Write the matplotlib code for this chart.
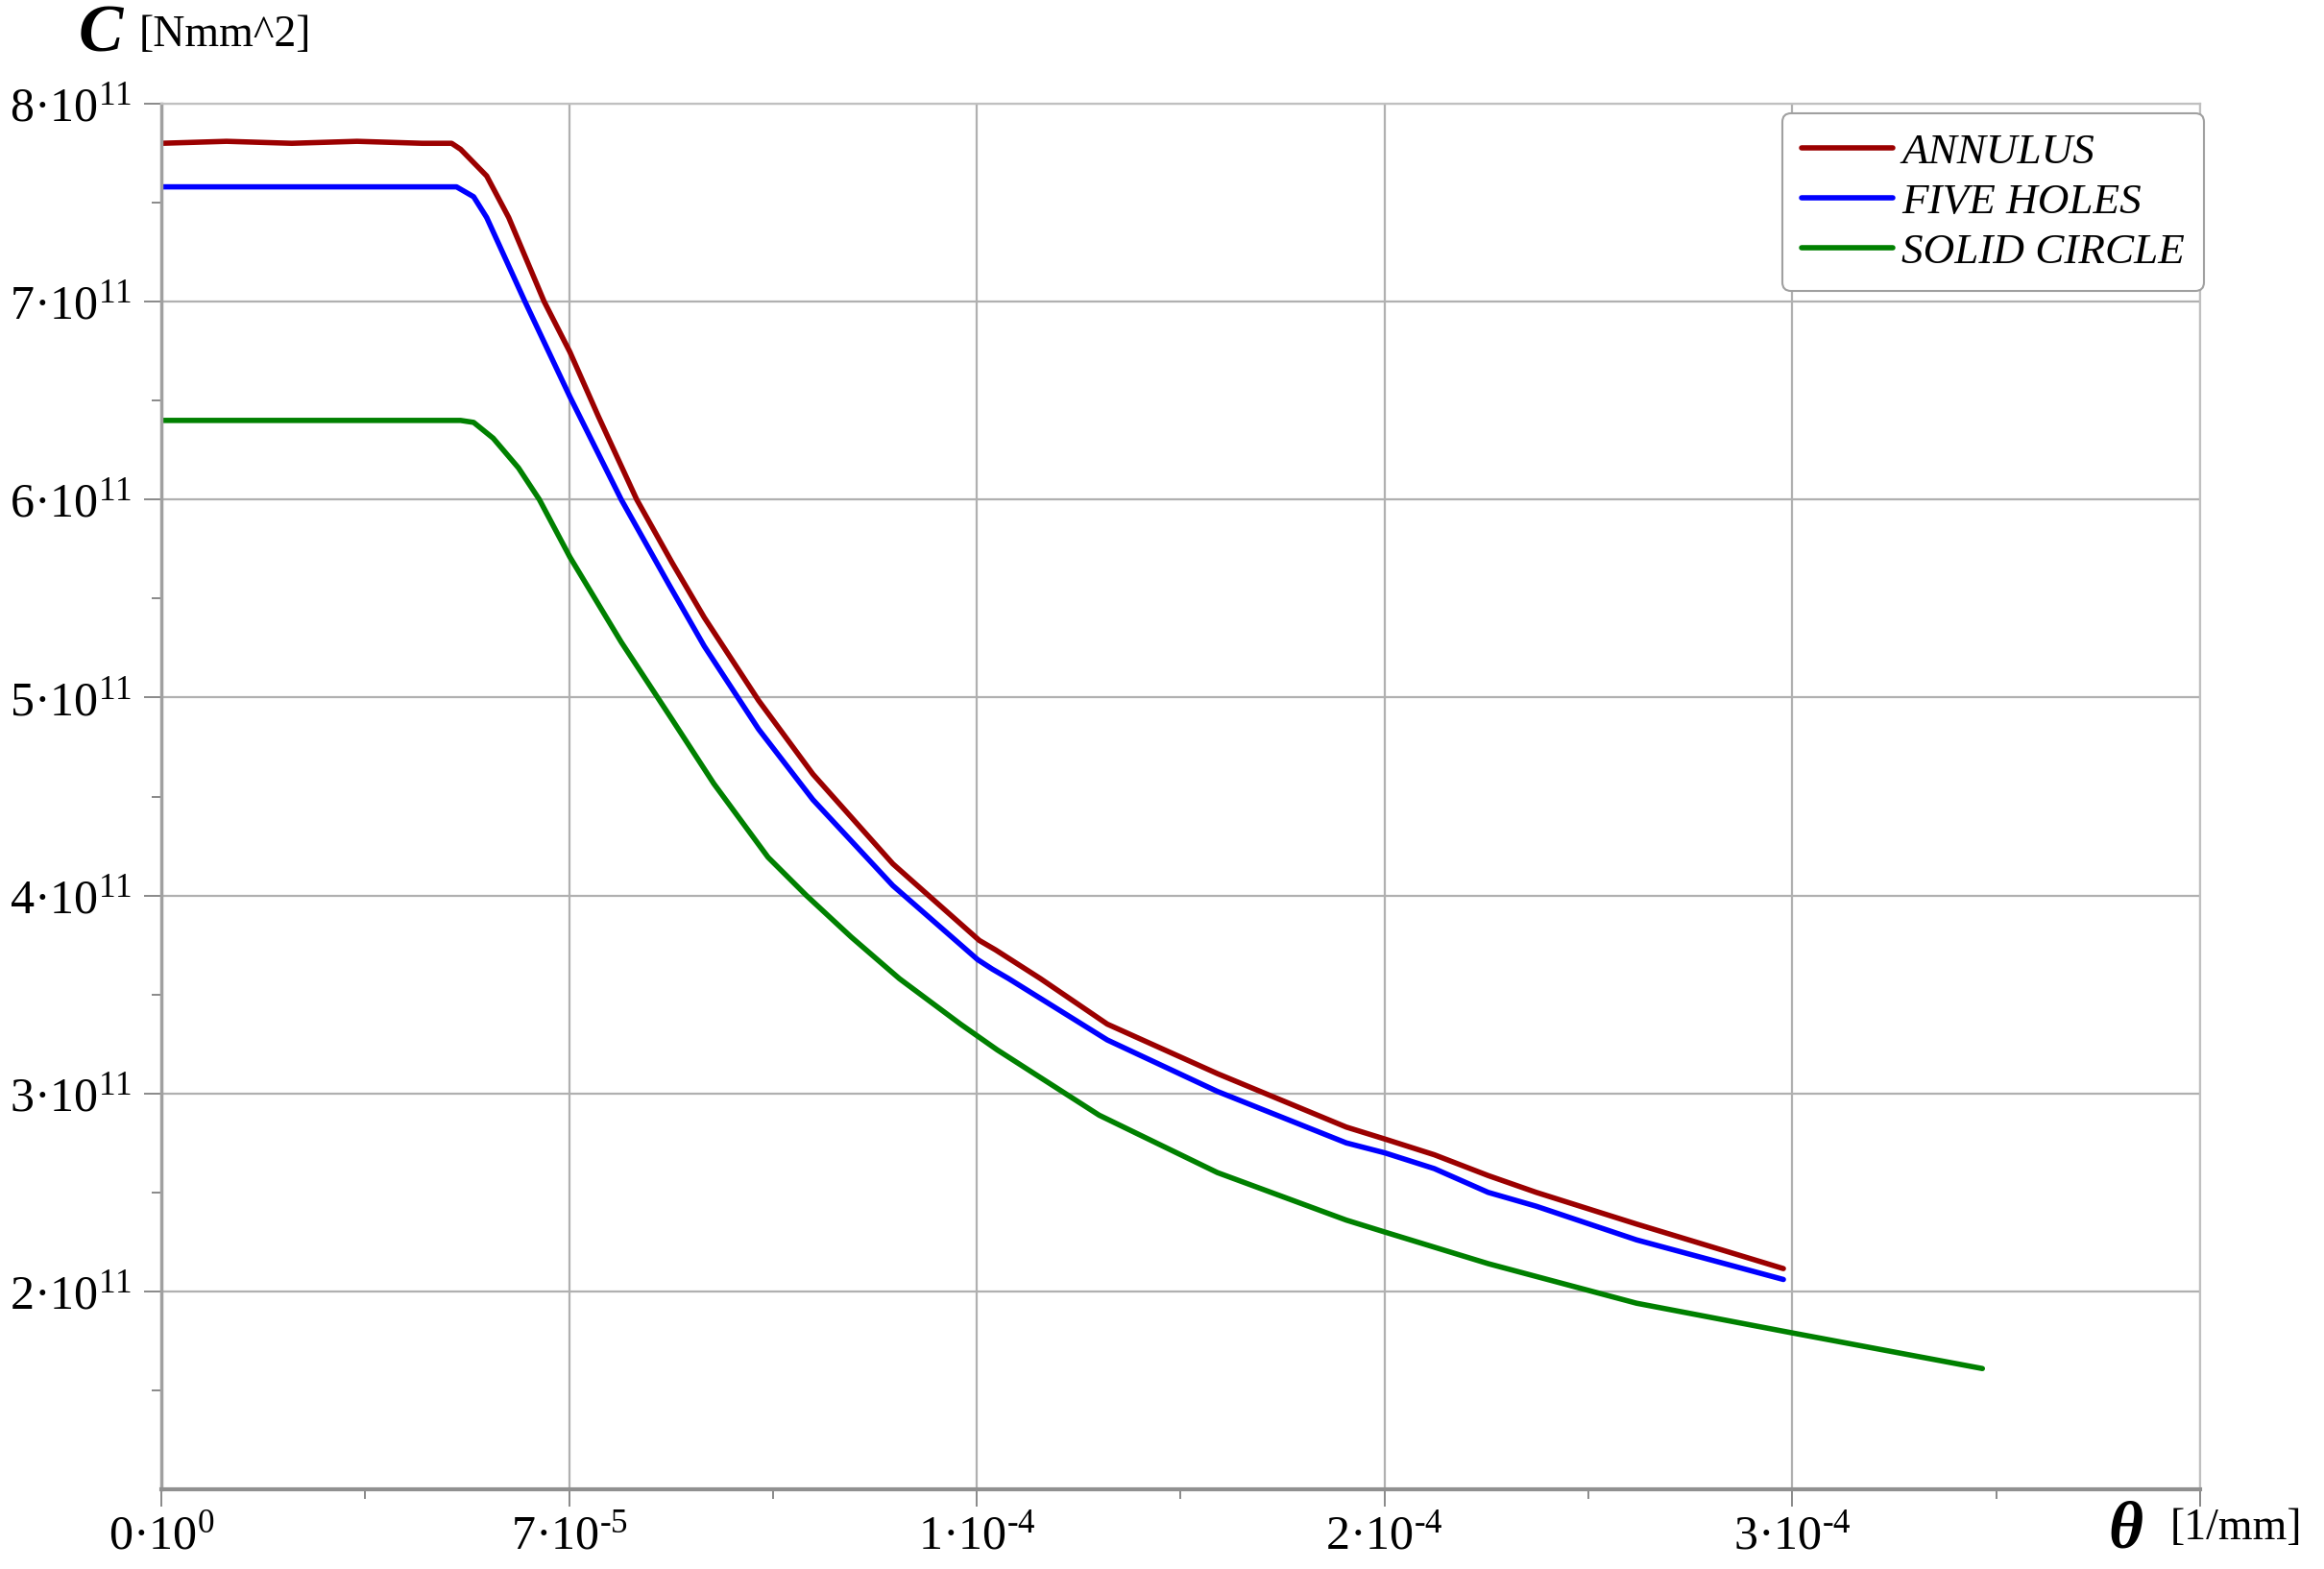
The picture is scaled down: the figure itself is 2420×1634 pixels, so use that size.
"""Rigidez C frente a la curvatura theta para tres secciones (Maple-like)."""
import numpy as np
import matplotlib.pyplot as plt
from matplotlib.ticker import FixedLocator, NullFormatter

plt.rcParams["font.family"] = ["Liberation Serif", "DejaVu Serif"]
plt.rcParams["mathtext.fontset"] = "custom"
plt.rcParams["mathtext.rm"] = "Liberation Serif"
plt.rcParams["mathtext.default"] = "regular"

# theta en unidades de 1e-4 [1/mm], C en unidades de 1e11 [Nmm^2]
annulus_x = [0, 0.08, 0.16, 0.24, 0.32, 0.356, 0.367, 0.399, 0.426, 0.4695,
             0.501, 0.536, 0.583, 0.6265, 0.6657, 0.7324, 0.799, 0.897, 1.003,
             1.023, 1.078, 1.16, 1.295, 1.453, 1.50, 1.561, 1.627, 1.686,
             1.809, 1.989]
annulus_c = [7.80, 7.81, 7.80, 7.81, 7.80, 7.80, 7.77, 7.635, 7.425, 7.0,
             6.746, 6.42, 6.0, 5.68, 5.405, 4.985, 4.613, 4.16, 3.773,
             3.725, 3.58, 3.35, 3.10, 2.83, 2.77, 2.69, 2.585, 2.50,
             2.34, 2.115]

five_x = [0, 0.362, 0.383, 0.399, 0.446, 0.501, 0.564, 0.6226, 0.6657, 0.7324,
          0.799, 0.897, 1.001, 1.019, 1.039, 1.16, 1.295, 1.453, 1.50, 1.561,
          1.627, 1.686, 1.809, 1.989]
five_c = [7.58, 7.58, 7.53, 7.425, 7.0, 6.52, 6.0, 5.57, 5.26, 4.84,
          4.484, 4.05, 3.676, 3.628, 3.58, 3.27, 3.01, 2.75, 2.70, 2.62,
          2.50, 2.43, 2.26, 2.06]

solid_x = [0, 0.367, 0.383, 0.407, 0.438, 0.4636, 0.501, 0.564, 0.6265, 0.6775,
           0.744, 0.791, 0.846, 0.905, 0.98, 1.025, 1.15, 1.295, 1.453, 1.50,
           1.627, 1.809, 2.0, 2.233]
solid_c = [6.40, 6.40, 6.39, 6.31, 6.16, 6.0, 5.71, 5.28, 4.888, 4.565,
           4.193, 4.0, 3.79, 3.58, 3.35, 3.22, 2.89, 2.60, 2.36, 2.30,
           2.14, 1.94, 1.79, 1.61]

xtick_pos = [0, 0.5e-4, 1.0e-4, 1.5e-4, 2.0e-4, 2.5e-4]
xtick_lab = [r"0·10$^{0}$", r"7·10$^{\text{-}5}$", r"1·10$^{\text{-}4}$",
             r"2·10$^{\text{-}4}$", r"3·10$^{\text{-}4}$", ""]
ytick_pos = [2e11, 3e11, 4e11, 5e11, 6e11, 7e11, 8e11]
ytick_lab = [f"{k}·10$^{{11}}$" for k in range(2, 9)]

fig = plt.figure(figsize=(24.2, 16.34), dpi=100)
ax = fig.add_axes([0.0694, 0.0508, 0.8773, 0.8831])

series = [
    (annulus_x, annulus_c, "#9b0000", "ANNULUS"),
    (five_x, five_c, "#0000ff", "FIVE HOLES"),
    (solid_x, solid_c, "#008000", "SOLID CIRCLE"),
]
for xs, cs, col, lab in series:
    ax.plot(np.array(xs) * 1e-4, np.array(cs) * 1e11, color=col, lw=4.0,
            label=lab, solid_capstyle="round", solid_joinstyle="round")

ax.set_xlim(0, 2.5e-4)
ax.set_ylim(1e11, 8e11)
ax.set_xticks(xtick_pos)
ax.set_xticklabels(xtick_lab, fontsize=36)
ax.set_yticks(ytick_pos)
ax.set_yticklabels(ytick_lab, fontsize=36)
ax.xaxis.set_minor_locator(FixedLocator(np.arange(0.25e-4, 2.5e-4, 0.5e-4)))
ax.yaxis.set_minor_locator(FixedLocator(np.arange(1.5e11, 8e11, 1e11)))
ax.xaxis.set_minor_formatter(NullFormatter())
ax.yaxis.set_minor_formatter(NullFormatter())
ax.tick_params(which="major", length=13, width=1.3, color="#808080", pad=6)
ax.tick_params(which="minor", length=7, width=1.3, color="#808080")
ax.tick_params(axis="y", which="major", pad=9)

ax.grid(True, which="major", color="#b0b0b0", lw=1.6)
for side in ("top", "right"):
    ax.spines[side].set_color("#c0c0c0")
    ax.spines[side].set_linewidth(1.6)
ax.spines["left"].set_color("#a0a0a0")
ax.spines["left"].set_linewidth(2.5)
ax.spines["bottom"].set_color("#909090")
ax.spines["bottom"].set_linewidth(3.0)

# etiquetas de ejes al estilo Maple
fig.text(82 / 2420, 1 - 37 / 1634, "C", fontsize=50, fontweight="bold",
         fontstyle="italic", va="center", ha="left")
fig.text(145 / 2420, 1 - 37 / 1634, "[Nmm^2]", fontsize=33, va="center", ha="left")
fig.text(2195 / 2420, 1 - 1595 / 1634, "θ", fontsize=50, fontweight="bold",
         fontstyle="italic", va="center", ha="left")
fig.text(2260 / 2420, 1 - 1592 / 1634, "[1/mm]", fontsize=33, va="center", ha="left")

leg = ax.legend(loc="upper right", bbox_to_anchor=(1.002, 0.993),
                prop={"family": "Liberation Serif", "style": "italic", "size": 32.5},
                handlelength=2.1, handletextpad=0.2, labelspacing=0.25,
                borderpad=0.45, borderaxespad=0.0, fancybox=True,
                framealpha=1, edgecolor="#a0a0a0")
leg.get_frame().set_linewidth(1.5)

plt.savefig("out.png")
